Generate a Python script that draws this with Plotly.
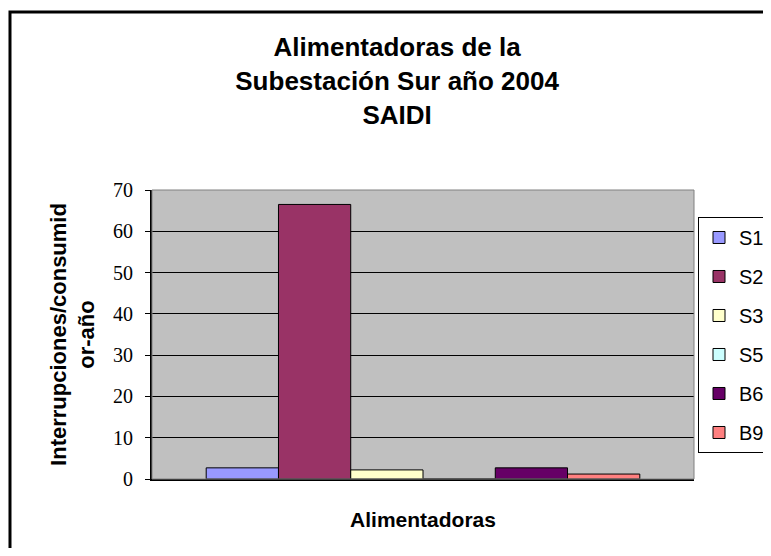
import plotly.graph_objects as go

# datos
alimentadoras = ["S1", "S2", "S3", "S5", "B6", "B9"]
saidi = [2.7, 66.5, 2.2, 0.0, 2.7, 1.2]
colores = ["#9999FF", "#993366", "#FFFFCC", "#CCFFFF", "#660066", "#FF8080"]
categoria = [""]

fig = go.Figure()
for nombre, valor, color in zip(alimentadoras, saidi, colores):
    fig.add_trace(go.Bar(x=categoria, y=[valor], name=nombre, legendgroup=nombre,
                         marker=dict(color=color, line=dict(color="black", width=1))))

# la página tiene 8px de margen; alto reducido para que no salga barra de desplazamiento
fig.update_layout(
    width=763, height=540,
    margin=dict(l=144, r=77, t=182, b=69, autoexpand=False),
    paper_bgcolor="white", plot_bgcolor="#C0C0C0",
    barmode="group", bargap=0.2, bargroupgap=0,
    font=dict(family="Liberation Sans, Arial", color="black"),
    title=dict(text="Alimentadoras de la<br>Subestación Sur año 2004<br>SAIDI",
               x=0.51, xanchor="center", y=1 - 48 / 540, yanchor="top",
               font=dict(size=26, weight="bold")),
    legend=dict(x=1.0074, y=0.9066, xanchor="left", yanchor="top",
                font=dict(size=20), bgcolor="white",
                bordercolor="black", borderwidth=1,
                traceorder="grouped", tracegroupgap=10),
    xaxis=dict(showticklabels=False, ticks="", showline=True, linecolor="black", linewidth=2,
               title=dict(text="Alimentadoras", font=dict(size=21, weight="bold"), standoff=32)),
    yaxis=dict(range=[0, 70], dtick=10, ticks="outside", ticklen=5, tickcolor="black",
               showline=True, linecolor="black", linewidth=2,
               showgrid=True, gridcolor="black", gridwidth=1, zeroline=False,
               tickfont=dict(family="Liberation Serif, Times New Roman", size=20),
               ticklabelstandoff=8,
               title=dict(text="Interrupciones/consumid<br>or-año",
                          font=dict(size=22, weight="bold"), standoff=12)),
    shapes=[
        dict(type="rect", xref="paper", yref="paper", x0=0, x1=1, y0=0, y1=1,
             line=dict(color="#808080", width=1), layer="above"),
        dict(type="rect", xref="paper", yref="paper", x0=-0.262, x1=1.25, y0=-0.4, y1=1.616,
             line=dict(color="black", width=3)),
    ],
)

fig.write_html("out.html")
